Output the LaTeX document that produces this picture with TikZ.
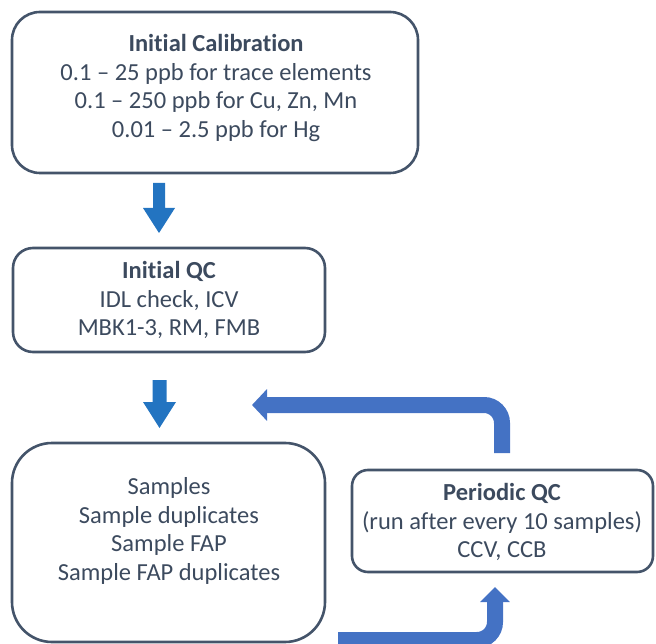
\documentclass[tikz,border=0pt]{standalone}
\usepackage{fontspec}
\setmainfont{Carlito}[RawFeature={-liga}]
\usetikzlibrary{arrows.meta}
\definecolor{edge}{HTML}{44546A}
\definecolor{txt}{HTML}{3C4A5E}
\definecolor{downblue}{HTML}{2374C1}
\definecolor{loopblue}{HTML}{4472C4}
\begin{document}
\begin{tikzpicture}[x=1pt,y=-1pt,
  box/.style={draw=edge,line width=2.6pt,minimum width=#1,inner sep=0pt},
  lbl/.style={text=txt,align=center,font=\fontsize{24.5}{28.5}\selectfont},
  downarrow/.style={fill=downblue,draw=none},
  looparrow/.style={draw=loopblue,line width=16pt,rounded corners=18pt,
    -{Triangle[width=31pt,length=15pt]}}]
\useasboundingbox (0,0) rectangle (656,644);
% boxes
\node[box=406pt,minimum height=161pt,rounded corners=28pt] (cal) at (215,92.5) {};
\node[lbl] (caltext) at (216,88) {\textbf{Initial Calibration}\\0.1 – 25 ppb for trace elements\\0.1 – 250 ppb for Cu, Zn, Mn\\0.01 – 2.5 ppb for Hg};
\node[box=312pt,minimum height=104pt,rounded corners=20pt] (iqc) at (169,300) {};
\node[lbl] (iqctext) at (169,300) {\textbf{Initial QC}\\IDL check, ICV\\MBK1-3, RM, FMB};
\node[box=313pt,minimum height=199pt,rounded corners=40pt] (smp) at (168.5,542.5) {};
\node[lbl] (smptext) at (169,531) {Samples\\Sample duplicates\\Sample FAP\\Sample FAP duplicates};
\node[box=301pt,minimum height=102pt,rounded corners=16pt] (pqc) at (502.5,521) {};
\node[lbl] (pqctext) at (502,522) {\textbf{Periodic QC}\\(run after every 10 samples)\\CCV, CCB};
% down block arrows
\coordinate (a1) at (159,183);
\coordinate (a2) at (159.5,380);
\fill[downarrow] (a1) ++(-6,0) -- ++(12,0) -- ++(0,25) -- ++(10,0) -- ++(-16,25) -- ++(-16,-25) -- ++(10,0) -- cycle;
\fill[downarrow] (a2) ++(-7,0) -- ++(14,0) -- ++(0,22) -- ++(9.5,0) -- ++(-16.5,26) -- ++(-16.5,-26) -- ++(9.5,0) -- cycle;
% loop arrows
\coordinate (fbstart) at (502,453);
\coordinate (fbend) at (252,405);
\draw[looparrow] (fbstart) |- (fbend);
\coordinate (btstart) at (338,640);
\coordinate (btend) at (495,587);
\draw[looparrow,-{Triangle[width=29pt,length=15pt]}] (btstart) -| (btend);
\end{tikzpicture}
\end{document}
